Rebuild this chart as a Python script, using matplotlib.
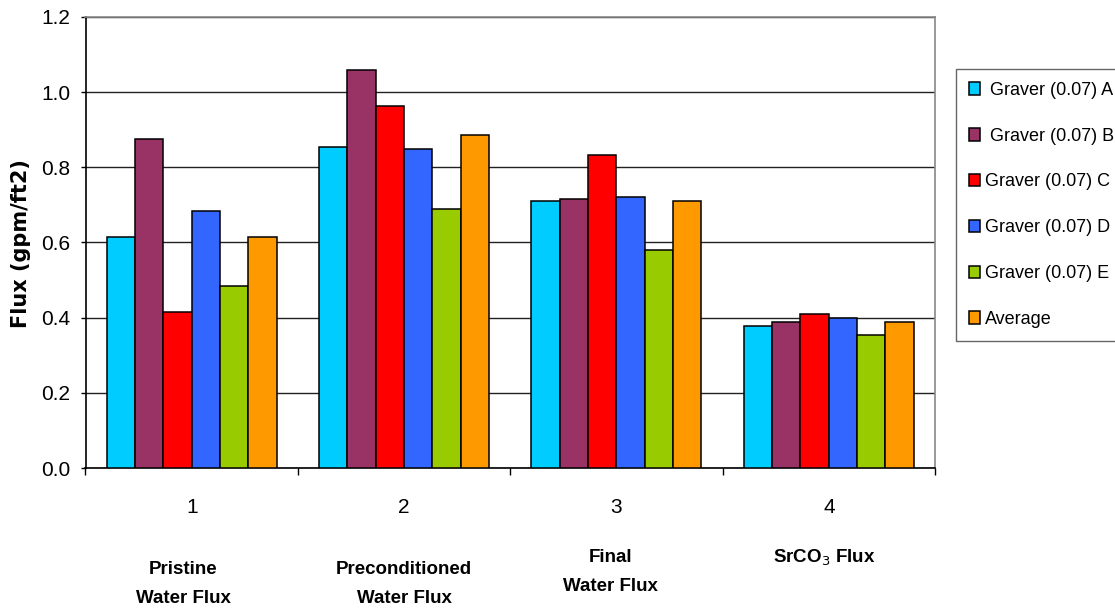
import numpy as np
import matplotlib
matplotlib.use("Agg")
import matplotlib.pyplot as plt
from matplotlib.transforms import blended_transform_factory

# --- data ---
categories = ["1", "2", "3", "4"]
stage_names = ["Pristine\nWater Flux", "Preconditioned\nWater Flux", "Final\nWater Flux", "SrCO$_3$ Flux"]
series_names = [" Graver (0.07) A", " Graver (0.07) B", "Graver (0.07) C",
                "Graver (0.07) D", "Graver (0.07) E", "Average"]
graver_a = [0.615, 0.853, 0.711, 0.379]
graver_b = [0.876, 1.059, 0.717, 0.389]
graver_c = [0.415, 0.964, 0.832, 0.410]
graver_d = [0.685, 0.850, 0.722, 0.400]
graver_e = [0.484, 0.690, 0.580, 0.353]
average = [0.615, 0.885, 0.711, 0.389]
colors = ["#00CCFF", "#993366", "#FF0000", "#3366FF", "#99CC00", "#FF9900"]

plt.rcParams["font.family"] = ["Liberation Sans", "DejaVu Sans"]

W, H = 1115, 613
fig = plt.figure(figsize=(W / 100, H / 100), dpi=100)
ax = fig.add_axes([85.5 / W, 1 - 468 / H, (935 - 85.5) / W, (468 - 17) / H])

series = [graver_a, graver_b, graver_c, graver_d, graver_e, average]
x = np.arange(len(categories))
n = len(series)
width = 0.8 / n
for i, vals in enumerate(series):
    ax.bar(x - 0.4 + width * (i + 0.5), vals, width, color=colors[i],
           edgecolor="black", linewidth=1.1, label=series_names[i], zorder=3)

ax.set_xlim(-0.5, len(categories) - 0.5)
ax.set_ylim(0, 1.2)
ax.set_yticks(np.arange(0, 1.21, 0.2))
ax.set_yticklabels([f"{v:.1f}" for v in np.arange(0, 1.21, 0.2)])
ax.yaxis.grid(True, color="#222222", linewidth=1)
ax.set_axisbelow(True)

# boundary ticks + centred category labels
ax.set_xticks(np.arange(-0.5, len(categories), 1.0))
ax.set_xticklabels([])
ax.set_xticks(x, minor=True)
ax.set_xticklabels(categories, minor=True)
ax.tick_params(axis="x", which="major", length=5, direction="out", width=1)
ax.tick_params(axis="x", which="minor", length=0, pad=21.5, labelsize=15)
ax.tick_params(axis="y", length=3.6, direction="out", width=1, pad=7.2, labelsize=15)

for s in ["top", "right"]:
    ax.spines[s].set_color("#888888")
for s in ["left", "bottom"]:
    ax.spines[s].set_color("black")
for s in ax.spines.values():
    s.set_linewidth(1.2)

fig.text(21 / W, 1 - 243.5 / H, "Flux (gpm/ft2)", rotation=90, ha="center", va="center",
         fontsize=15, fontweight="bold", family="DejaVu Sans")

# stage names under the axis
tr = blended_transform_factory(ax.transData, fig.transFigure)
stage_x = [-0.04, 1.0, 1.974, 2.98]
stage_y = [584, 584, 572, 558]
for sx, sy, name in zip(stage_x, stage_y, stage_names):
    ax.text(sx, 1 - sy / H, name, transform=tr, ha="center", va="center",
            fontsize=13.5, fontweight="bold", linespacing=1.95)

leg = ax.legend(loc="upper left", bbox_to_anchor=(956 / W, 1 - 69 / H),
                bbox_transform=fig.transFigure, borderaxespad=0, fancybox=False,
                frameon=True, edgecolor="#404040", prop={"size": 13},
                handlelength=0.62, handleheight=0.7, handletextpad=0.3,
                labelspacing=1.6, borderpad=0.7)
leg.get_frame().set_linewidth(1)

fig.savefig("out.png", dpi=100)
